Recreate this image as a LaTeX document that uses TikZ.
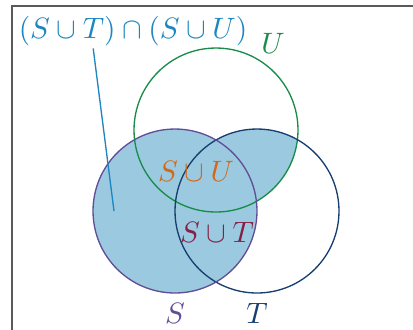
\documentclass[tikz,border=0pt]{standalone}
\usepackage{tikz}
\usetikzlibrary{positioning}
\definecolor{relleno}{RGB}{155,201,223}
\definecolor{morado}{RGB}{96,78,152}
\definecolor{marino}{RGB}{22,62,112}
\definecolor{verde}{RGB}{24,140,72}
\definecolor{celeste}{RGB}{28,134,192}
\definecolor{naranja}{RGB}{212,104,22}
\definecolor{granate}{RGB}{132,32,72}
\definecolor{gris}{RGB}{90,90,90}

\begin{document}
\begin{tikzpicture}[
        x=0.01192cm, y=-0.01192cm,
        conjunto/.style={line width=0.45pt},
        etiqueta/.style={inner sep=0pt}
    ]
        \useasboundingbox (0,0) rectangle (413,329);
        \draw[gris, line width=0.45pt] (12,6) rectangle (520,420);

        \coordinate (cS) at (175,211);
        \coordinate (cT) at (257,211);
        \coordinate (cU) at (216,130);

        % region sombreada: S union (T interseccion U)
        \fill[relleno] (cS) circle (0.977cm);
        \begin{scope}
            \clip (cT) circle (0.977cm);
            \fill[relleno] (cU) circle (0.977cm);
        \end{scope}

        \draw[conjunto, verde] (cU) circle (0.977cm);
        \draw[conjunto, marino] (cT) circle (0.977cm);
        \draw[conjunto, morado] (cS) circle (0.977cm);

        \node[etiqueta, morado] (S) at (175,313) {$S$};
        \node[etiqueta, marino] (T) at (257,313) {$T$};
        \node[etiqueta, verde] (U) at (273,43) {$U$};
        \node[etiqueta, naranja] (SU) at (196,171) {$S\cup U$};
        \node[etiqueta, granate] (ST) at (217,232) {$S\cup T$};
        \node[etiqueta, celeste] (total) at (133,31) {$(S\cup T)\cap(S\cup U)$};

        \coordinate (punta) at (114,211);
        \draw[celeste, line width=0.45pt] (total.south west) ++(75,2) -- (punta);
    \end{tikzpicture}
\end{document}
